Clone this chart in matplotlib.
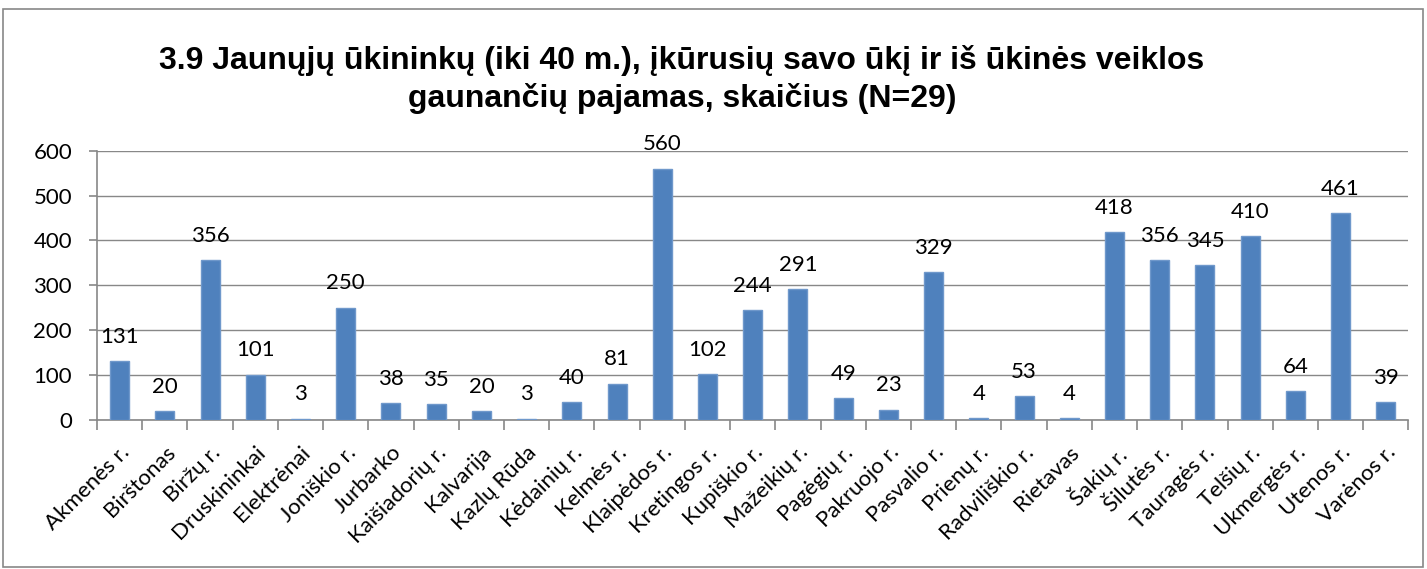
import matplotlib
matplotlib.use("Agg")
import matplotlib.pyplot as plt
from matplotlib.patches import Rectangle
import numpy as np

savivaldybes = ["Akmenės r.", "Birštonas", "Biržų r.", "Druskininkai", "Elektrėnai",
                "Joniškio r.", "Jurbarko", "Kaišiadorių r.", "Kalvarija", "Kazlų Rūda",
                "Kėdainių r.", "Kelmės r.", "Klaipėdos r.", "Kretingos r.", "Kupiškio r.",
                "Mažeikių r.", "Pagėgių r.", "Pakruojo r.", "Pasvalio r.", "Prienų r.",
                "Radviliškio r.", "Rietavas", "Šakių r.", "Šilutės r.", "Tauragės r.",
                "Telšių r.", "Ukmergės r.", "Utenos r.", "Varėnos r."]
ukininkai = [131, 20, 356, 101, 3, 250, 38, 35, 20, 3, 40, 81, 560, 102, 244,
             291, 49, 23, 329, 4, 53, 4, 418, 356, 345, 410, 64, 461, 39]
y_ticks = [0, 100, 200, 300, 400, 500, 600]

title_font = ["Liberation Sans Narrow", "DejaVu Sans Condensed", "Liberation Sans"]
text_font = "Lato"

fig = plt.figure(figsize=(14.27, 5.69), dpi=100)
fig.patches.append(Rectangle((0.002, 0.004), 0.995, 0.98, transform=fig.transFigure,
                             fill=False, edgecolor="#888888", linewidth=1.2))
ax = fig.add_axes([0.068, 0.262, 0.919, 0.473])

x = np.arange(len(ukininkai))
ax.bar(x, ukininkai, width=0.42, color="#4F81BD", edgecolor="#6F98CB", linewidth=1.0, zorder=3)
for xi, v in zip(x, ukininkai):
    ax.text(xi, v + 32, str(v), ha="center", va="bottom", fontsize=16,
            family=text_font, color="black")

ax.set_xlim(-0.5, len(ukininkai) - 0.5)
ax.set_ylim(0, 600)
ax.set_yticks(y_ticks)
ax.set_yticklabels([str(t) for t in y_ticks], family=text_font, fontsize=16)
ax.yaxis.grid(True, color="#888888", linewidth=1.0, zorder=0)

# ticks between categories, labels centred under bars
ax.set_xticks(np.arange(-0.5, len(ukininkai), 1.0))
ax.set_xticklabels([])
ax.set_xticks(x, minor=True)
ax.set_xticklabels(savivaldybes, minor=True, rotation=45, ha="right",
                   rotation_mode="anchor", family=text_font, fontsize=16)
ax.tick_params(axis="x", which="major", length=7, color="#888888", width=1.2)
ax.tick_params(axis="x", which="minor", length=0, pad=16)
ax.tick_params(axis="y", length=6, color="#888888", width=1.2, pad=12)

for side in ["top", "right"]:
    ax.spines[side].set_visible(False)
for side in ["left", "bottom"]:
    ax.spines[side].set_color("#888888")
    ax.spines[side].set_linewidth(1.2)

fig.text(0.478, 0.86, "3.9 Jaunųjų ūkininkų (iki 40 m.), įkūrusių savo ūkį ir iš ūkinės veiklos\n"
         "gaunančių pajamas, skaičius (N=29)", ha="center", va="center",
         fontsize=23, fontweight="bold", family=title_font, linespacing=1.3)

fig.savefig("out.png", dpi=100)
